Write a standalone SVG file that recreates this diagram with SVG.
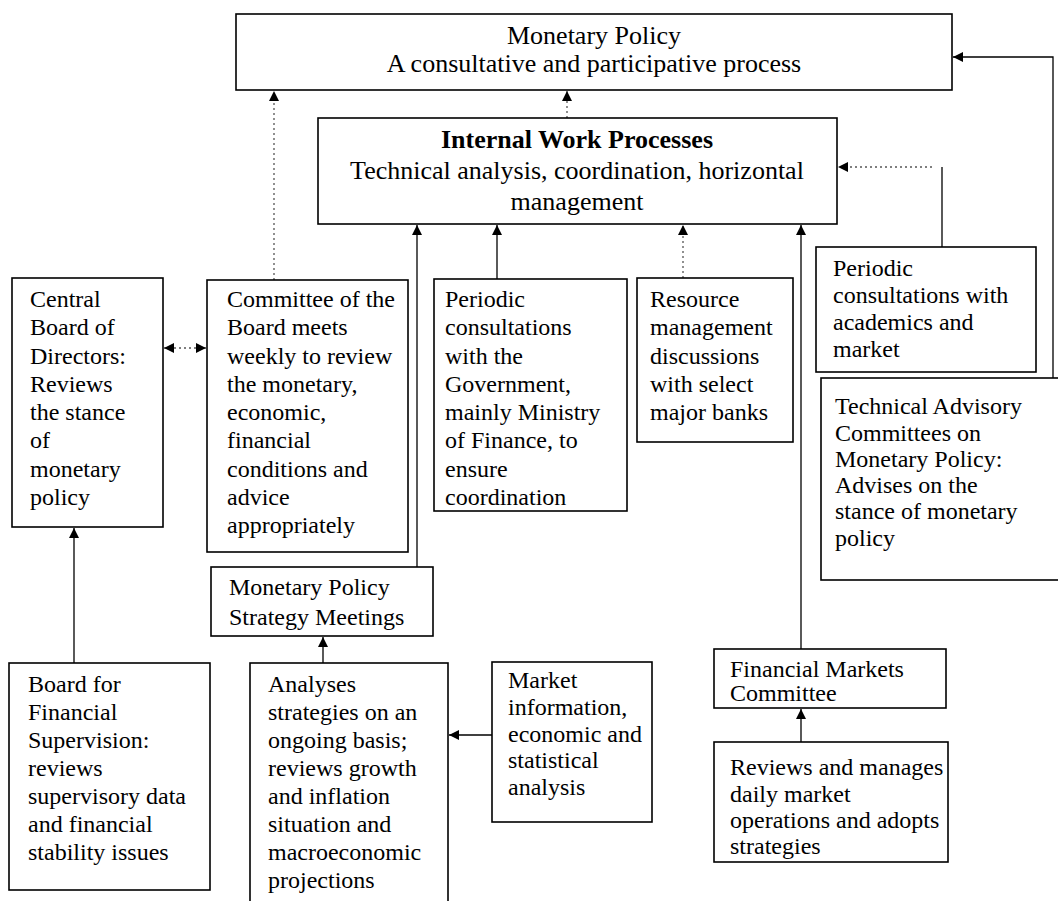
<svg xmlns="http://www.w3.org/2000/svg" width="1058" height="901" viewBox="0 0 1058 901">
<style>
.box{fill:#fff;stroke:#000;stroke-width:1.6}
.t{font-family:"Liberation Serif","Times New Roman",serif;font-size:24px;fill:#000}
.h{font-size:26px}
.c{text-anchor:middle}
.b{font-weight:bold}
.solid{stroke:#000;stroke-width:1.3;fill:none}
.dot{stroke:#555;stroke-width:1.3;stroke-dasharray:2 3;fill:none}
</style>
<defs>
<marker id="ah" markerUnits="userSpaceOnUse" markerWidth="10" markerHeight="10" refX="10" refY="5" orient="auto-start-reverse" viewBox="0 0 10 10">
<path d="M0,0 L10,5 L0,10 z" fill="#000"/>
</marker>
</defs>
<rect width="1058" height="901" fill="#fff"/>

<g id="connectors">
<path class="dot" d="M274,280 V91" marker-end="url(#ah)"/>
<path class="dot" d="M567,118 V91" marker-end="url(#ah)"/>
<path class="dot" d="M164,348 H206" marker-start="url(#ah)" marker-end="url(#ah)"/>
<path class="solid" d="M417,567 V225" marker-end="url(#ah)"/>
<path class="solid" d="M497,279 V225" marker-end="url(#ah)"/>
<path class="dot" d="M683,278 V225" marker-end="url(#ah)"/>
<path class="solid" d="M801,649 V225" marker-end="url(#ah)"/>
<path class="solid" d="M942,247 V167"/>
<path class="dot" d="M932,167 H838" marker-end="url(#ah)"/>
<path class="solid" d="M1037,383 H1053 V57 H953" marker-end="url(#ah)"/>
<path class="solid" d="M74,663 V528" marker-end="url(#ah)"/>
<path class="solid" d="M323,663 V637" marker-end="url(#ah)"/>
<path class="solid" d="M492,735 H449" marker-end="url(#ah)"/>
<path class="solid" d="M801,742 V709" marker-end="url(#ah)"/>
</g>

<g id="monetary-policy">
<rect class="box" x="236" y="14" width="716" height="76"/>
<text class="t h c" x="594" y="44">Monetary Policy</text>
<text class="t h c" x="594" y="72">A consultative and participative process</text>
</g>

<g id="internal-work">
<rect class="box" x="318" y="118" width="519" height="106"/>
<text class="t h c b" x="577" y="148">Internal Work Processes</text>
<text class="t h c" x="577" y="179">Technical analysis, coordination, horizontal</text>
<text class="t h c" x="577" y="210">management</text>
</g>

<g id="central-board">
<rect class="box" x="12" y="278" width="151" height="249"/>
<text class="t"><tspan x="30" y="307">Central</tspan><tspan x="30" y="335">Board of</tspan><tspan x="30" y="364">Directors:</tspan><tspan x="30" y="392">Reviews</tspan><tspan x="30" y="420">the stance</tspan><tspan x="30" y="448">of</tspan><tspan x="30" y="477">monetary</tspan><tspan x="30" y="505">policy</tspan></text>
</g>

<g id="committee">
<rect class="box" x="207" y="280" width="201" height="272"/>
<text class="t"><tspan x="227" y="307">Committee of the</tspan><tspan x="227" y="335">Board meets</tspan><tspan x="227" y="364">weekly to review</tspan><tspan x="227" y="392">the monetary,</tspan><tspan x="227" y="420">economic,</tspan><tspan x="227" y="448">financial</tspan><tspan x="227" y="477">conditions and</tspan><tspan x="227" y="505">advice</tspan><tspan x="227" y="533">appropriately</tspan></text>
</g>

<g id="government">
<rect class="box" x="434" y="279" width="193" height="232"/>
<text class="t"><tspan x="445" y="307">Periodic</tspan><tspan x="445" y="335">consultations</tspan><tspan x="445" y="364">with the</tspan><tspan x="445" y="392">Government,</tspan><tspan x="445" y="420">mainly Ministry</tspan><tspan x="445" y="448">of Finance, to</tspan><tspan x="445" y="477">ensure</tspan><tspan x="445" y="505">coordination</tspan></text>
</g>

<g id="resource">
<rect class="box" x="637" y="278" width="156" height="164"/>
<text class="t"><tspan x="650" y="307">Resource</tspan><tspan x="650" y="335">management</tspan><tspan x="650" y="364">discussions</tspan><tspan x="650" y="392">with select</tspan><tspan x="650" y="420">major banks</tspan></text>
</g>

<g id="academics">
<rect class="box" x="816" y="247" width="220" height="125"/>
<text class="t"><tspan x="833" y="276">Periodic</tspan><tspan x="833" y="303">consultations with</tspan><tspan x="833" y="330">academics and</tspan><tspan x="833" y="357">market</tspan></text>
</g>

<g id="technical-advisory">
<rect class="box" x="821" y="378" width="245" height="202"/>
<text class="t"><tspan x="835" y="414">Technical Advisory</tspan><tspan x="835" y="441">Committees on</tspan><tspan x="835" y="467">Monetary Policy:</tspan><tspan x="835" y="493">Advises on the</tspan><tspan x="835" y="519">stance of monetary</tspan><tspan x="835" y="546">policy</tspan></text>
</g>

<g id="strategy-meetings">
<rect class="box" x="211" y="567" width="222" height="69"/>
<text class="t"><tspan x="229" y="595">Monetary Policy</tspan><tspan x="229" y="625">Strategy Meetings</tspan></text>
</g>

<g id="board-financial-supervision">
<rect class="box" x="9" y="663" width="201" height="227"/>
<text class="t"><tspan x="28" y="692">Board for</tspan><tspan x="28" y="720">Financial</tspan><tspan x="28" y="748">Supervision:</tspan><tspan x="28" y="776">reviews</tspan><tspan x="28" y="804">supervisory data</tspan><tspan x="28" y="832">and financial</tspan><tspan x="28" y="860">stability issues</tspan></text>
</g>

<g id="analyses">
<rect class="box" x="250" y="663" width="198" height="260"/>
<text class="t"><tspan x="268" y="692">Analyses</tspan><tspan x="268" y="720">strategies on an</tspan><tspan x="268" y="748">ongoing basis;</tspan><tspan x="268" y="776">reviews growth</tspan><tspan x="268" y="804">and inflation</tspan><tspan x="268" y="832">situation and</tspan><tspan x="268" y="860">macroeconomic</tspan><tspan x="268" y="888">projections</tspan></text>
</g>

<g id="market-information">
<rect class="box" x="492" y="662" width="160" height="160"/>
<text class="t"><tspan x="508" y="688">Market</tspan><tspan x="508" y="715">information,</tspan><tspan x="508" y="742">economic and</tspan><tspan x="508" y="768">statistical</tspan><tspan x="508" y="795">analysis</tspan></text>
</g>

<g id="financial-markets-committee">
<rect class="box" x="714" y="649" width="232" height="59"/>
<text class="t"><tspan x="730" y="677">Financial Markets</tspan><tspan x="730" y="701">Committee</tspan></text>
</g>

<g id="reviews-manages">
<rect class="box" x="714" y="742" width="234" height="120"/>
<text class="t"><tspan x="730" y="775">Reviews and manages</tspan><tspan x="730" y="802">daily market</tspan><tspan x="730" y="828">operations and adopts</tspan><tspan x="730" y="854">strategies</tspan></text>
</g>
</svg>
